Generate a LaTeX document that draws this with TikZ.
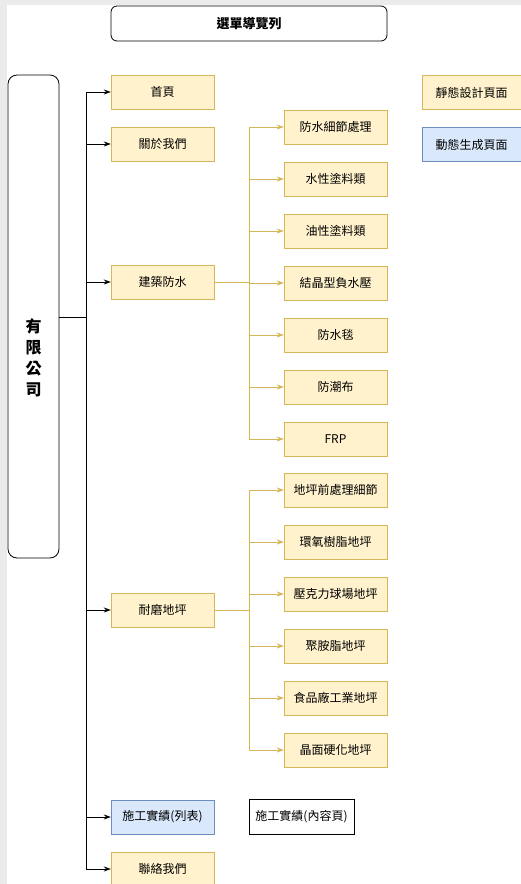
\documentclass[tikz,border=0pt]{standalone}
\usepackage{fontspec}
\setmainfont{Noto Sans CJK TC}
\usetikzlibrary{arrows.meta}
\definecolor{yfill}{HTML}{FFF2CC}
\definecolor{ybd}{HTML}{D6B656}
\definecolor{bfill}{HTML}{DAE8FC}
\definecolor{bbd}{HTML}{6C8EBF}
\definecolor{bgg}{HTML}{EBEBEB}
\begin{document}
\begin{tikzpicture}[x=1pt,y=-1pt,
  base/.style={minimum width=103pt,minimum height=34pt,inner sep=0pt,font=\fontsize{12}{14}\selectfont},
  ybox/.style={base,draw=ybd,fill=yfill},
  bbox/.style={base,draw=bbd,fill=bfill},
  blk/.style={draw=black,line width=0.8pt,-{Stealth[length=7pt,width=5pt]}},
  blkl/.style={draw=black,line width=0.8pt},
  yl/.style={draw=ybd,line width=0.8pt},
  yla/.style={draw=ybd,line width=0.8pt,-{Stealth[length=7pt,width=5pt,fill=ybd]}}]
\useasboundingbox (0,0) rectangle (521,884);
\fill[bgg] (0,0) rectangle (521,884);
\fill[white] (7,5) rectangle (521,884);
% title
\node[draw=black,line width=0.8pt,rounded corners=6pt,minimum width=276pt,minimum height=35pt,inner sep=0pt,font=\fontsize{13}{15}\selectfont\bfseries] (title) at (249,23.5) {選單導覽列};
% left company box
\node[draw=black,line width=0.8pt,rounded corners=9pt,minimum width=51pt,minimum height=483pt,inner sep=0pt] (lbox) at (33.5,316.5) {};
\node[font=\fontsize{16}{21}\selectfont\bfseries,align=center,inner sep=0pt] (ltext) at (33.5,358) {有\\限\\公\\司};
% level 1
\node[ybox] (home) at (162.5,92) {首頁};
\node[ybox] (about) at (162.5,144) {關於我們};
\node[ybox] (fs) at (162.5,282) {建築防水};
\node[ybox] (nm) at (162.5,610) {耐磨地坪};
\node[bbox] (works) at (162.5,817) {施工實績(列表)};
\node[ybox] (contact) at (162.5,869) {聯絡我們};
% level 2 group a
\node[ybox] (a1) at (335.5,127) {防水細節處理};
\node[ybox] (a2) at (335.5,179) {水性塗料類};
\node[ybox] (a3) at (335.5,231) {油性塗料類};
\node[ybox] (a4) at (335.5,283) {結晶型負水壓};
\node[ybox] (a5) at (335.5,335) {防水毯};
\node[ybox] (a6) at (335.5,387) {防潮布};
\node[ybox] (a7) at (335.5,439) {FRP};
% level 2 group b
\node[ybox] (b1) at (335.5,490) {地坪前處理細節};
\node[ybox] (b2) at (335.5,542) {環氧樹脂地坪};
\node[ybox] (b3) at (335.5,594) {壓克力球場地坪};
\node[ybox] (b4) at (335.5,646) {聚胺脂地坪};
\node[ybox] (b5) at (335.5,698) {食品廠工業地坪};
\node[ybox] (b6) at (335.5,750) {晶面硬化地坪};
% content page
\node[draw=black,line width=0.8pt,minimum width=105pt,minimum height=35pt,inner sep=0pt,font=\fontsize{12}{14}\selectfont] (wc) at (301.5,817) {施工實績(內容頁)};
% legend
\node[ybox,minimum width=99pt] (leg1) at (471.5,92.5) {靜態設計頁面};
\node[bbox,minimum width=99pt] (leg2) at (471.5,144.5) {動態生成頁面};
% trunk connectors
\coordinate (j) at (86,317);
\draw[blkl] (lbox.east |- j) -- (j);
\draw[blkl] (home.west -| j) -- (contact.west -| j);
\foreach \n in {home,about,fs,nm,works,contact}
  \draw[blk] (\n.west -| j) -- (\n.west);
% group a connectors
\coordinate (ja) at (249,282);
\draw[yl] (fs.east) -- (fs.east -| ja);
\draw[yl] (a1.west -| ja) -- (a7.west -| ja);
\foreach \n in {a1,a2,a3,a4,a5,a6,a7}
  \draw[yla] (\n.west -| ja) -- (\n.west);
% group b connectors
\draw[yl] (nm.east) -- (nm.east -| ja);
\draw[yl] (b1.west -| ja) -- (b6.west -| ja);
\foreach \n in {b1,b2,b3,b4,b5,b6}
  \draw[yla] (\n.west -| ja) -- (\n.west);
\end{tikzpicture}
\end{document}
